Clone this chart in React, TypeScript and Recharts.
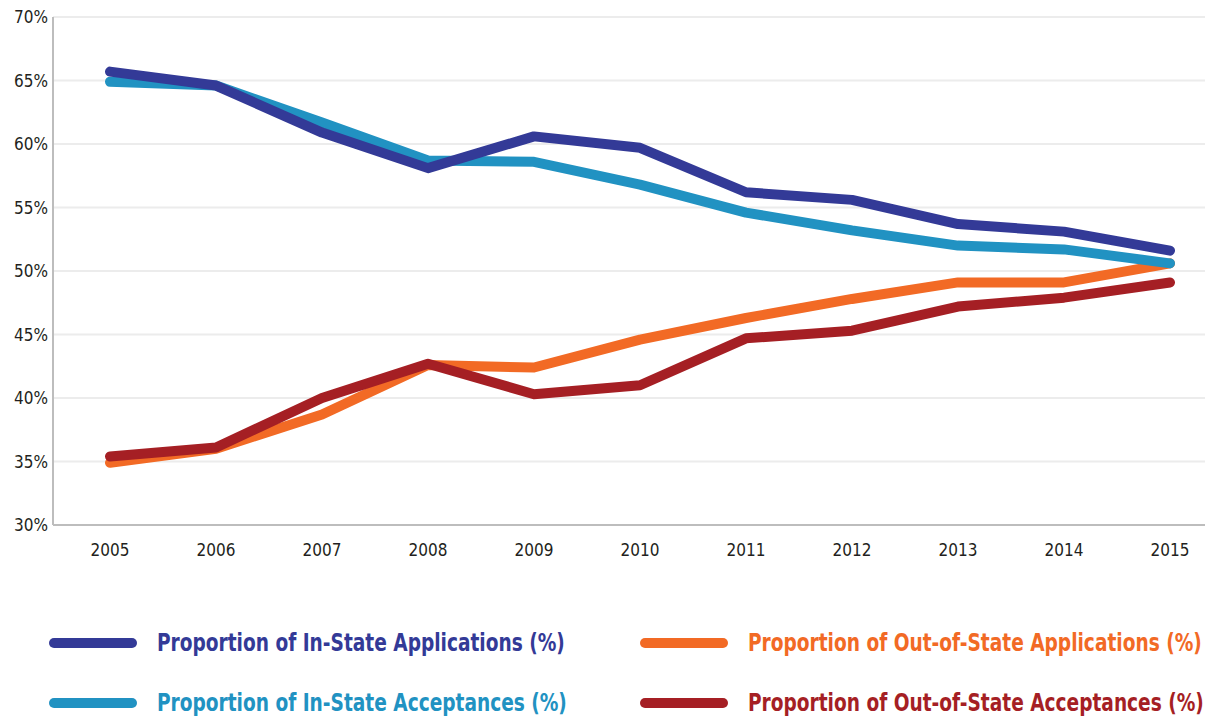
import React from "react"
import { LineChart, Line, XAxis, YAxis, CartesianGrid } from "recharts"

const years = ["2005", "2006", "2007", "2008", "2009", "2010", "2011", "2012", "2013", "2014", "2015"]
const inStateApps = [65.7, 64.6, 60.9, 58.1, 60.6, 59.7, 56.2, 55.6, 53.7, 53.1, 51.6]
const inStateAccepts = [64.9, 64.6, 61.7, 58.7, 58.6, 56.8, 54.6, 53.2, 52.0, 51.7, 50.6]
const outStateApps = [34.9, 36.0, 38.7, 42.6, 42.4, 44.6, 46.3, 47.8, 49.1, 49.1, 50.6]
const outStateAccepts = [35.4, 36.1, 40.0, 42.7, 40.3, 41.0, 44.7, 45.3, 47.2, 47.9, 49.1]
const yTicks = [30, 35, 40, 45, 50, 55, 60, 65, 70]

const series = [
    { key: "inApps", name: "Proportion of In-State Applications (%)", color: "#333a97", values: inStateApps },
    { key: "inAcc", name: "Proportion of In-State Acceptances (%)", color: "#2192c2", values: inStateAccepts },
    { key: "outApps", name: "Proportion of Out-of-State Applications (%)", color: "#f26a25", values: outStateApps },
    { key: "outAcc", name: "Proportion of Out-of-State Acceptances (%)", color: "#a51f24", values: outStateAccepts },
]

const data = years.map((year, i) => {
    const row: Record<string, string | number> = { year }
    series.forEach(s => { row[s.key] = s.values[i] })
    return row
})

// draw order: light lines under dark ones where they cross
const drawOrder = ["outApps", "outAcc", "inAcc", "inApps"]

const condensed = "'DejaVu Sans Condensed', 'DejaVu Sans', sans-serif"
const tickStyle = { fill: "#231f20", fontSize: 17, fontFamily: condensed }

function LegendItem({ s, x, y }: { s: typeof series[number]; x: number; y: number }) {
    return (
        <div style={{ position: "absolute", left: x, top: y, display: "flex", alignItems: "center" }}>
            <div style={{ width: 88, height: 10, borderRadius: 5, background: s.color }} />
            <span style={{
                marginLeft: 20, color: s.color, fontFamily: condensed, fontWeight: 700,
                fontSize: 24, whiteSpace: "nowrap", lineHeight: "30px",
                display: "inline-block", transform: "scaleX(0.86)", transformOrigin: "left center",
            }}>{s.name}</span>
        </div>
    )
}

export default function App() {
    return (
        <div style={{ position: "absolute", left: 0, top: 0, width: 1209, height: 719, background: "#fff" }}>
            <LineChart width={1209} height={580} data={data} margin={{ top: 17, right: 4, bottom: 0, left: 0 }}>
                <CartesianGrid vertical={false} stroke="#ececec" strokeWidth={2} />
                <XAxis
                    dataKey="year"
                    height={55}
                    padding={{ left: 57, right: 35 }}
                    axisLine={{ stroke: "#bdbdbd", strokeWidth: 2 }}
                    tickLine={false}
                    tickSize={0}
                    tickMargin={19}
                    tick={tickStyle}
                />
                <YAxis
                    width={53}
                    domain={[30, 70]}
                    ticks={yTicks}
                    interval={0}
                    tickFormatter={(v: number) => `${v}%`}
                    axisLine={{ stroke: "#bdbdbd", strokeWidth: 2 }}
                    tickLine={false}
                    tickSize={0}
                    tickMargin={5}
                    tick={tickStyle}
                />
                {drawOrder.map(k => {
                    const s = series.find(x => x.key === k)!
                    return (
                        <Line
                            key={k}
                            type="linear"
                            dataKey={k}
                            name={s.name}
                            stroke={s.color}
                            strokeWidth={10}
                            strokeLinecap="round"
                            strokeLinejoin="round"
                            dot={false}
                            activeDot={false}
                            isAnimationActive={false}
                        />
                    )
                })}
            </LineChart>
            <LegendItem s={series[0]} x={49} y={628} />
            <LegendItem s={series[1]} x={49} y={688} />
            <LegendItem s={series[2]} x={640} y={628} />
            <LegendItem s={series[3]} x={640} y={688} />
        </div>
    )
}
